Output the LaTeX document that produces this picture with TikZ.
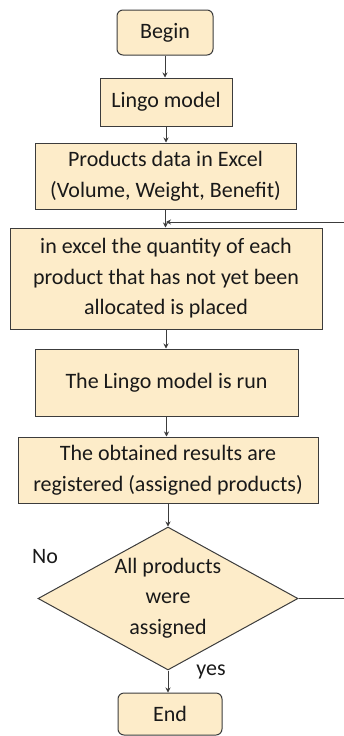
\documentclass[tikz,border=0pt]{standalone}
\usepackage{fontspec}
\setmainfont{Carlito}
\usetikzlibrary{shapes.geometric,arrows.meta}
\definecolor{boxfill}{RGB}{253,236,201}
\definecolor{edge}{RGB}{60,60,60}
\definecolor{txt}{RGB}{25,25,25}
\begin{document}
\begin{tikzpicture}[x=1pt,y=1pt,
  every node/.style={font=\fontsize{22}{30.5}\selectfont, text=txt},
  procbox/.style={draw=edge, line width=1pt, fill=boxfill, inner sep=0pt, align=center},
  termbox/.style={procbox, rounded corners=6pt},
  decbox/.style={diamond, draw=edge, line width=1pt, fill=boxfill, inner sep=0pt},
  flow/.style={draw=edge, line width=1pt, -{Stealth[length=5pt,width=5pt]}},
  plain/.style={draw=edge, line width=1pt}
]
\useasboundingbox (0,0) rectangle (343,-736);
\node[termbox, minimum width=96pt, minimum height=45pt] (begin) at (165,-32.5) {Begin};
\node[procbox, minimum width=132pt, minimum height=48pt] (lingo) at (166,-102) {Lingo model};
\node[procbox, minimum width=261pt, minimum height=66pt] (data) at (165.5,-176) {Products data in Excel\\(Volume, Weight, Benefit)};
\node[procbox, minimum width=312pt, minimum height=101pt] (excel) at (166,-278.5) {in excel the quantity of each\\product that has not yet been\\allocated is placed};
\node[procbox, minimum width=263pt, minimum height=67pt] (run) at (166.5,-382.5) {The Lingo model is run};
\node[procbox, minimum width=300pt, minimum height=66pt] (results) at (168,-470) {The obtained results are\\registered (assigned products)};
\node[decbox, minimum width=260pt, minimum height=143pt] (dec) at (168,-598.5) {};
\node[align=center] (dectext) at (168,-598) {All products\\were\\assigned};
\node[termbox, minimum width=104pt, minimum height=42pt] (end) at (170,-714) {End};
\node (no) at (45,-557) {No};
\node (yes) at (211,-672) {yes};

\coordinate (merge) at (166,-222);
\coordinate (rightturn) at (346,-598.5);

\draw[flow] (begin.south) -- (begin.south |- lingo.north);
\draw[flow] (lingo.south) -- (lingo.south |- data.north);
\draw[flow] (data.south) -- (data.south |- excel.north);
\draw[flow] (excel.south) -- (excel.south |- run.north);
\draw[flow] (run.south) -- (run.south |- results.north);
\draw[flow] (results.south) -- (dec.north);
\draw[flow] (dec.south) -- (dec.south |- end.north);
\draw[flow] (dec.east) -- (rightturn) |- (merge);
\end{tikzpicture}
\end{document}
